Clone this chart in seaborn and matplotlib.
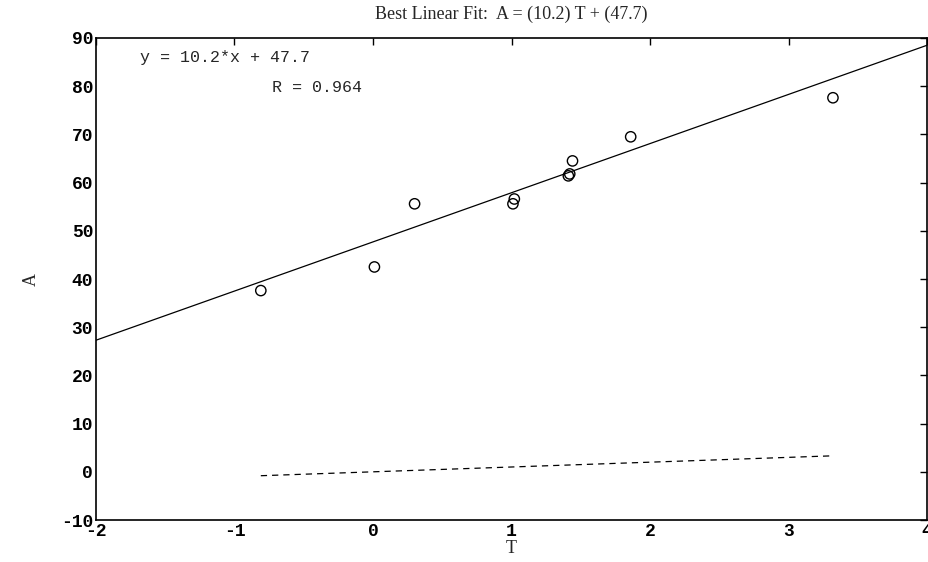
import numpy as np
import pandas as pd
import seaborn as sns
import matplotlib.pyplot as plt

# values
T = [-0.81, 0.01, 0.30, 1.01, 1.02, 1.41, 1.42, 1.44, 1.86, 3.32]
A = [37.6, 42.5, 55.6, 55.6, 56.6, 61.4, 61.8, 64.5, 69.5, 77.6]
slope = 10.2
intercept = 47.7
R = 0.964
xlim = (-2, 4)
ylim = (-10, 90)

sns.set_theme(style="white")
plt.rcParams['font.family'] = ['Liberation Mono', 'DejaVu Sans']
plt.rcParams['axes.unicode_minus'] = False

fig = plt.figure(figsize=(9.29, 5.62), dpi=100)
ax = fig.add_axes([0.1033, 0.0747, 0.8947, 0.8577])

df = pd.DataFrame({"T": T, "A": A})

# best linear fit over the full axis range
fx = np.array(xlim, dtype=float)
fit = pd.DataFrame({"T": fx, "A": slope * fx + intercept})
sns.lineplot(data=fit, x="T", y="A", ax=ax, color="black", linewidth=0.9)

# A = T reference line
tx = np.array([min(T), max(T)])
ref = pd.DataFrame({"T": tx, "A": tx})
sns.lineplot(data=ref, x="T", y="A", ax=ax, color="black", linewidth=0.9,
             linestyle=(0, (5, 4)))

sns.scatterplot(data=df, x="T", y="A", ax=ax, marker="o", s=55,
                facecolors="none", edgecolor="black", linewidth=1.0)

ax.set_xlim(*xlim)
ax.set_ylim(*ylim)
ax.set_xticks(range(-2, 5))
ax.set_yticks(range(-10, 91, 10))
ax.tick_params(direction="in", top=True, right=True, length=5, width=1,
               labelsize=13, colors="black", pad=2)
for lab in ax.get_xticklabels() + ax.get_yticklabels():
    lab.set_fontweight("bold")
for s in ax.spines.values():
    s.set_color("black")
    s.set_linewidth(1.2)

ax.set_xlabel("T", fontsize=13, family="Liberation Serif", labelpad=0)
ax.set_ylabel("A", fontsize=13, family="Liberation Serif")
ax.yaxis.set_label_coords(-0.067, 0.5)
ax.set_title("Best Linear Fit:  A = (%.1f) T + (%.1f)" % (slope, intercept),
             fontsize=13, family="Liberation Serif", pad=14)

ax.text(-1.68, 86, "y = %.1f*x + %.1f" % (slope, intercept), fontsize=12,
        va="center")
ax.text(-0.73, 79.7, "R = %.3f" % R, fontsize=12, va="center")

fig.savefig("out.png", dpi=100, facecolor="white")
